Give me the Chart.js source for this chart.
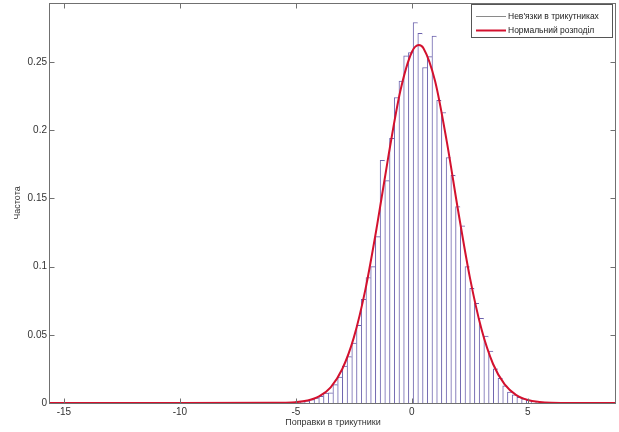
<!DOCTYPE html>
<html>
<head>
<meta charset="utf-8">
<script src="https://cdn.jsdelivr.net/npm/chart.js@4"></script>
<style>
  html, body { margin: 0; padding: 0; background: #fff; }
  #wrap { width: 619px; height: 432px; }
</style>
</head>
<body>
<div id="wrap"><canvas id="histChart"></canvas></div>
<script>
// histogram bins (centres) and normalised frequencies
const binCenters = [
  -4.928, -4.725, -4.522, -4.318, -4.115, -3.912, -3.708, -3.505, -3.302, -3.098,
  -2.895, -2.692, -2.488, -2.285, -2.082, -1.878, -1.675, -1.472, -1.268, -1.065,
  -0.862, -0.658, -0.455, -0.252, -0.048, 0.155, 0.358, 0.562, 0.765, 0.968,
  1.172, 1.375, 1.578, 1.782, 1.985, 2.188, 2.392, 2.595, 2.798, 3.002,
  3.205, 3.408, 3.612, 3.815, 4.018, 4.222, 4.425, 4.628, 4.832, 5.035,
  5.238, 5.442, 5.645
];
const binFreq = [
  0.0010, 0.0007, 0.0016, 0.0025, 0.0036, 0.0048, 0.0072, 0.0075, 0.0135, 0.0190,
  0.0270, 0.0340, 0.0440, 0.0570, 0.0760, 0.0920, 0.1000, 0.1220, 0.1780, 0.1630,
  0.1940, 0.2240, 0.2360, 0.2545, 0.2570, 0.2790, 0.2710, 0.2460, 0.2540, 0.2690,
  0.2220, 0.2130, 0.1800, 0.1670, 0.1440, 0.1300, 0.1000, 0.0840, 0.0730, 0.0620,
  0.0490, 0.0380, 0.0250, 0.0180, 0.0125, 0.0080, 0.0060, 0.0042, 0.0030, 0.0020,
  0.0012, 0.0008, 0.0004
];

// fitted normal curve
const curveX = [-15.6, -10, -6, -5.5, -5, -4.5, -4, -3.5, -3, -2.5, -2, -1.5, -1, -0.5, 0,
  0.3, 0.5, 1, 1.5, 2, 2.5, 3, 3.5, 4, 4.5, 5, 5.5, 6, 7, 8.8];
const curveY = [0, 0, 0.0001, 0.0002, 0.0006, 0.0018, 0.0048, 0.0115, 0.0249, 0.0481, 0.0835,
  0.1302, 0.1821, 0.2286, 0.2574, 0.2625, 0.2602, 0.2361, 0.1922, 0.1404, 0.0921, 0.0542,
  0.0286, 0.0136, 0.0058, 0.0022, 0.0008, 0.0002, 0, 0];

const seriesLabels = ["Нев'язки в трикутниках", 'Нормальний розподіл'];
const xTitle = 'Поправки в трикутники';
const yTitle = 'Частота';

const FONT = 'Liberation Sans, Arial, sans-serif';
const frameColor = '#707070';
const barEdge = '#6c62ad';
const curveColor = '#d3112e';

// matlab style box with inward ticks + boxed legend
const framePlugin = {
  id: 'matlabFrame',
  afterDatasetsDraw(chart) {
    const { ctx, chartArea: a, scales: { x, y } } = chart;
    ctx.save();
    ctx.strokeStyle = frameColor;
    ctx.lineWidth = 1;
    const L = Math.round(a.left) - 0.5, R = Math.round(a.right) - 0.5;
    const T = Math.round(a.top) + 0.5, B = Math.round(a.bottom) + 0.5;
    ctx.strokeRect(L, T, R - L, B - T);
    ctx.beginPath();
    x.ticks.forEach(t => {
      const px = Math.round(x.getPixelForValue(t.value)) + 0.5;
      ctx.moveTo(px, B); ctx.lineTo(px, B - 5);
      ctx.moveTo(px, T); ctx.lineTo(px, T + 5);
    });
    y.ticks.forEach(t => {
      const py = Math.round(y.getPixelForValue(t.value)) + 0.5;
      ctx.moveTo(L, py); ctx.lineTo(L + 5, py);
      ctx.moveTo(R, py); ctx.lineTo(R - 5, py);
    });
    ctx.stroke();

    // legend box
    const bx = 471.5, by = 4.5, bw = 141, bh = 33;
    ctx.fillStyle = '#fff';
    ctx.fillRect(bx, by, bw, bh);
    ctx.strokeStyle = '#555';
    ctx.strokeRect(bx, by, bw, bh);
    ctx.font = '8.5px ' + FONT;
    ctx.textBaseline = 'middle';
    ctx.textAlign = 'left';
    chart.data.datasets.forEach((ds, i) => {
      const ly = 16 + i * 14;
      ctx.beginPath();
      ctx.strokeStyle = i === 0 ? '#8a8a8a' : ds.borderColor;
      ctx.lineWidth = i === 0 ? 1 : 2;
      ctx.moveTo(476, ly + 0.5); ctx.lineTo(506, ly + 0.5);
      ctx.stroke();
      ctx.fillStyle = '#222';
      ctx.fillText(ds.label, 508, ly + 0.5);
    });
    ctx.restore();
  }
};

const ctx = document.getElementById('histChart').getContext('2d');

new Chart(ctx, {
  type: 'bar',
  data: {
    datasets: [
      {
        label: seriesLabels[0],
        data: binCenters.map((c, i) => ({ x: c, y: binFreq[i] })),
        backgroundColor: '#ffffff',
        borderColor: barEdge,
        borderWidth: { top: 1, left: 1, right: 0, bottom: 0 },
        borderSkipped: 'bottom',
        barPercentage: 1,
        categoryPercentage: 1,
        order: 1
      },
      {
        type: 'line',
        label: seriesLabels[1],
        data: curveX.map((v, i) => ({ x: v, y: curveY[i] })),
        borderColor: curveColor,
        borderWidth: 2,
        pointRadius: 0,
        fill: false,
        cubicInterpolationMode: 'monotone',
        order: 0
      }
    ]
  },
  options: {
    responsive: true,
    maintainAspectRatio: false,
    animation: false,
    layout: { padding: { top: 3, right: 3, left: 0, bottom: 0 } },
    plugins: {
      legend: { display: false },
      tooltip: { enabled: false }
    },
    scales: {
      x: {
        type: 'linear',
        min: -15.6,
        max: 8.8,
        offset: false,
        grid: { display: false, drawTicks: false },
        border: { display: false },
        ticks: {
          stepSize: 5,
          includeBounds: false,
          maxRotation: 0,
          padding: 3,
          color: '#333',
          font: { family: FONT, size: 10 }
        },
        title: {
          display: true,
          text: xTitle,
          color: '#333',
          font: { family: FONT, size: 9 },
          padding: { top: 0, bottom: 4 }
        },
        afterFit: s => { s.height = 29; s.paddingLeft = 0; s.paddingRight = 0; }
      },
      y: {
        min: 0,
        max: 0.2933,
        grid: { display: false, drawTicks: false },
        border: { display: false },
        ticks: {
          stepSize: 0.05,
          includeBounds: false,
          padding: 3,
          color: '#333',
          font: { family: FONT, size: 10 },
          callback: v => String(+v.toFixed(2))
        },
        title: {
          display: true,
          text: yTitle,
          color: '#333',
          font: { family: FONT, size: 9 },
          padding: { top: 12, bottom: 0 }
        },
        afterFit: s => { s.width = 50; s.paddingTop = 0; s.paddingBottom = 0; }
      }
    }
  },
  plugins: [framePlugin]
});
</script>
</body>
</html>
